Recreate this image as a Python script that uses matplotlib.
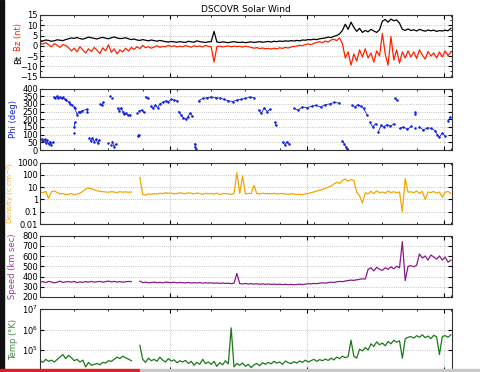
import numpy as np
import matplotlib
matplotlib.use("Agg")
import matplotlib.pyplot as plt
from matplotlib.patches import Rectangle
from matplotlib.ticker import FixedLocator, MultipleLocator, NullFormatter

# time in hours, one sample every half hour
hours = np.arange(0, 72.01, 0.5)
day_ticks = [22.8, 46.8, 70.8]

bt = [2.5, 2.3, 2.8, 2.6, 2.2, 2.4, 2.9, 2.7, 2.5, 3.0,
      3.4, 3.8, 3.6, 4.0, 3.5, 3.2, 3.7, 4.2, 3.9, 3.6,
      3.3, 3.8, 4.1, 3.7, 3.4, 3.9, 4.3, 3.8, 3.5, 3.6,
      3.9, 3.4, 3.0, 3.3, 2.8, 2.6, 3.0, 2.7, 2.4, 2.8,
      2.5, 2.2, 2.6, 2.3, 2.0, 1.8, 2.1, 1.9, 1.7, 2.0,
      1.8, 1.6, 2.2, 1.9, 1.7, 2.4, 2.0, 1.8, 1.6, 1.9,
      2.0, 7.0, 1.8, 1.6, 1.9, 1.7, 1.5, 1.8, 2.0, 1.7,
      1.6, 1.8, 1.5, 1.7, 1.9, 1.6, 1.8, 2.0, 1.7, 1.9,
      2.1, 1.8, 2.2, 2.0, 2.3, 2.1, 2.4, 2.2, 2.5, 2.3,
      2.6, 2.4, 2.8, 2.7, 3.0, 2.9, 3.2, 3.0, 3.4, 3.6,
      3.8, 4.2, 4.0, 4.6, 5.0, 5.8, 7.5, 10.5, 8.0, 11.5,
      9.0, 7.0, 8.5, 6.5, 7.5, 6.8, 8.0, 7.2, 6.5, 7.8,
      12.0, 12.8, 11.5, 13.0, 12.2, 12.6, 11.0, 8.0, 7.5, 8.2,
      7.4, 7.8, 7.2, 8.0, 7.5, 7.1, 7.7, 7.3, 7.6, 7.0,
      7.4, 7.2, 7.6, 7.3, 8.5]

bz = [1.2, 0.8, 1.5, 0.5, -0.5, 1.0, 0.3, -0.8, 0.6, 0.2,
      -1.0, -2.5, -1.2, -3.0, -0.5, -2.0, -3.5, -1.5, -2.8, -0.8,
      -2.2, -3.8, -1.0, -2.5, 0.5, -3.2, -1.5, -4.0, -2.0, -3.0,
      -1.2, -2.6, -0.8, -1.8, -0.5, -1.4, 0.2, -1.0, -0.4, -1.2,
      -0.6, 0.0, -0.8, -0.3, -0.5, 0.2, -0.4, 0.0, -0.6, -0.2,
      -0.5, 0.1, -0.3, -0.7, 0.0, -0.4, -0.1, -0.6, 0.2, -0.3,
      -0.5, -8.0, -0.4, -0.2, -0.6, -0.3, -0.1, -0.5, -0.2, -0.4,
      -0.3, -0.6, -0.2, -0.5, -0.8, -1.2, -0.9, -1.4, -1.1, -1.5,
      -1.3, -1.6, -1.2, -1.5, -1.0, -1.3, -0.8, -1.1, -0.6, -0.4,
      -0.2, 0.3, 0.0, 0.6, 0.9, 0.5, 1.2, 1.6, 2.0, 1.5,
      2.3, 1.8, 2.8, 3.2, 2.5, 3.8, 1.0, -6.0, -3.0, -9.5,
      -4.0, -7.5, -2.0, -5.5, -1.5, -6.0, -3.5, -8.0, -2.5, -5.0,
      6.0, -4.0, -9.5, 4.5, -7.0, -2.0, -8.5, -3.0, -6.0, -2.5,
      -5.5, -3.0, -6.2, -2.0, -4.5, -6.5, -2.8, -5.0, -3.5, -6.0,
      -3.0, -5.5, -2.5, -4.8, -3.2]

# (hour, phi in degrees)
phi_points = [
    (0.0, 65), (0.3, 72), (0.5, 58), (0.8, 70), (1.0, 48), (1.2, 62), (1.5, 40), (1.7, 55), (2.0, 35), (2.2, 50),
    (2.4, 345), (2.7, 340), (3.0, 350), (3.2, 338), (3.5, 345), (3.8, 335), (4.0, 342), (4.3, 330), (4.6, 325),
    (5.0, 315), (5.3, 300), (5.6, 290), (5.9, 280), (6.1, 270), (6.0, 150), (5.9, 110), (6.1, 180),
    (6.5, 230), (6.8, 250), (7.0, 245), (7.3, 255), (8.2, 265), (8.3, 250),
    (8.6, 75), (8.9, 60), (9.2, 80), (9.5, 55), (9.8, 70), (10.1, 45), (10.4, 65),
    (10.6, 300), (10.9, 290), (11.1, 310),
    (12.0, 45), (12.4, 30), (12.7, 55), (13.0, 20), (13.3, 40), (12.3, 350), (12.6, 340),
    (13.6, 270), (13.9, 255), (14.2, 275), (14.5, 250), (14.8, 235), (15.1, 240), (15.4, 225), (15.7, 230),
    (17.0, 240), (17.4, 255), (17.8, 260), (18.2, 245), (17.3, 100), (17.1, 90),
    (18.5, 345), (18.9, 335), (19.4, 285), (19.8, 270), (20.2, 290), (20.6, 275),
    (21.0, 300), (21.5, 310), (22.0, 320), (22.5, 315), (23.0, 330), (23.5, 325), (24.0, 320),
    (24.3, 250), (24.7, 230), (25.1, 210), (25.5, 200), (25.9, 215), (26.3, 240), (26.7, 220),
    (27.1, 40), (27.2, 20), (27.3, 5),
    (27.8, 320), (28.5, 335), (29.2, 340), (30.0, 345), (30.8, 340), (31.5, 338), (32.2, 330),
    (33.0, 320), (33.8, 315), (34.5, 325), (35.2, 330), (36.0, 335), (36.8, 345), (37.5, 340),
    (38.3, 260), (38.8, 240), (39.3, 275), (39.8, 250), (40.3, 265), (41.2, 180), (41.3, 160),
    (42.5, 50), (42.9, 35), (43.3, 55), (43.7, 40),
    (44.5, 270), (45.2, 260), (46.0, 280), (46.8, 275), (47.6, 285), (48.4, 290), (49.2, 280),
    (50.0, 295), (50.8, 300), (51.6, 310), (52.4, 305),
    (53.0, 60), (53.3, 40), (53.6, 20), (53.8, 5),
    (54.7, 290), (55.2, 280), (55.7, 295), (56.2, 285), (56.7, 270),
    (57.3, 230), (57.8, 180), (58.3, 150), (58.8, 170), (59.3, 120), (59.8, 160),
    (60.2, 150), (60.8, 165), (61.4, 155), (62.0, 170), (62.2, 335), (62.5, 325),
    (63.0, 140), (63.7, 150), (64.4, 135), (65.1, 155), (65.8, 140), (66.5, 150), (67.2, 130),
    (67.9, 145), (68.6, 140), (69.3, 125), (65.7, 250), (65.8, 235),
    (69.6, 100), (70.0, 85), (70.5, 110), (71.0, 90), (71.5, 190), (71.9, 215),
]

nan = np.nan
density = [4.0, 3.5, 4.5, 1.2, 4.2, 5.0, 3.6, 2.8, 3.0, 2.5,
           2.6, 3.0, 2.4, 2.8, 3.2, 4.5, 7.0, 8.5, 7.5, 6.0,
           5.0, 4.5, 4.2, 4.0, 3.8, 4.3, 4.0, 3.6, 4.2, 3.9,
           4.1, 3.8, 4.0, nan, nan, 60, 2.5, 2.2, 2.8, 2.6,
           3.0, 2.7, 3.2, 2.9, 3.5, 3.1, 3.3, 2.8, 3.0, 3.4,
           3.2, 2.9, 3.5, 3.1, 2.8, 3.3, 3.0, 2.6, 3.1, 2.9,
           3.0, 2.7, 3.2, 2.5, 2.9, 3.0, 2.8, 2.6, 3.1, 150,
           3.0, 80, 2.8, 3.1, 2.9, 14, 3.0, 2.8, 3.2, 2.9,
           3.0, 2.8, 3.1, 2.7, 2.9, 3.0, 2.8, 2.6, 2.9, 2.7,
           2.5, 2.6, 2.4, 2.8, 3.0, 3.5, 4.0, 4.8, 5.5, 6.5,
           8.0, 10, 12, 18, 25, 20, 35, 45, 30, 40,
           35, 4.0, 2.0, 0.5, 3.5, 2.8, 4.5, 3.0, 5.0, 3.5,
           4.0, 3.2, 4.8, 3.6, 4.2, 3.5, 4.0, 0.1, 50, 3.8,
           4.2, 3.5, 4.8, 3.0, 4.5, 1.0, 4.0, 3.6, 4.4, 3.2,
           4.0, 1.5, 3.8, 4.5, 3.0]

speed = [345, 350, 340, 352, 347, 338, 345, 355, 342, 348,
         350, 345, 352, 340, 348, 343, 350, 346, 352, 345,
         348, 352, 345, 350, 355, 348, 352, 346, 350, 345,
         348, 352, 350, nan, nan, 355, 340, 345, 338, 342,
         345, 340, 343, 338, 345, 342, 340, 344, 338, 342,
         340, 338, 342, 336, 340, 337, 341, 335, 339, 336,
         338, 334, 337, 333, 336, 332, 335, 330, 334, 430,
         330, 328, 332, 327, 330, 326, 329, 325, 328, 324,
         327, 323, 326, 322, 325, 321, 324, 320, 323, 319,
         322, 325, 321, 326, 330, 328, 333, 330, 335, 338,
         336, 340, 345, 342, 348, 352, 350, 356, 360, 365,
         362, 368, 372, 378, 375, 470, 485, 455, 490, 470,
         460, 485, 470, 495, 475, 500, 485, 740, 360, 500,
         505, 495, 510, 620, 580, 600, 560, 610, 590, 570,
         600, 560, 590, 540, 560]

temp = [3.0e4, 2.5e4, 3.5e4, 2.8e4, 3.2e4, 2.6e4, 3.4e4, 4.5e4, 6.0e4, 3.8e4,
        5.5e4, 4.2e4, 3.0e4, 3.5e4, 2.6e4, 3.2e4, 1.5e4, 2.5e4, 1.8e4, 2.0e4,
        2.2e4, 1.9e4, 2.5e4, 2.3e4, 3.0e4, 2.8e4, 3.5e4, 4.5e4, 3.8e4, 5.0e4,
        4.2e4, 3.6e4, 3.0e4, nan, nan, 1.7e5, 3.5e4, 2.5e4, 4.0e4, 3.0e4,
        3.5e4, 2.8e4, 4.5e4, 3.2e4, 2.6e4, 3.8e4, 2.9e4, 3.3e4, 2.4e4, 3.0e4,
        2.6e4, 3.1e4, 2.2e4, 2.8e4, 1.8e4, 2.5e4, 2.0e4, 3.5e4, 2.2e4, 2.6e4,
        2.0e4, 2.8e4, 1.6e4, 2.4e4, 1.9e4, 3.0e4, 2.1e4, 1.2e6, 1.5e4, 2.2e4,
        1.8e4, 2.3e4, 1.6e4, 2.0e4, 1.4e4, 1.9e4, 2.2e4, 1.7e4, 2.4e4, 2.0e4,
        2.5e4, 2.1e4, 2.8e4, 2.3e4, 2.6e4, 2.0e4, 2.9e4, 2.4e4, 2.2e4, 2.7e4,
        2.3e4, 2.9e4, 2.5e4, 3.2e4, 2.6e4, 3.0e4, 3.5e4, 2.8e4, 3.4e4, 3.0e4,
        3.6e4, 3.1e4, 4.0e4, 3.3e4, 4.5e4, 3.8e4, 5.0e4, 4.2e4, 4.8e4, 3.0e5,
        5.0e4, 4.0e4, 1.1e5, 9.0e4, 1.3e5, 1.0e5, 2.0e5, 1.5e5, 2.5e5, 1.8e5,
        2.2e5, 1.6e5, 2.6e5, 2.0e5, 3.0e5, 2.4e5, 2.8e5, 4.0e4, 3.5e5, 4.2e5,
        4.5e5, 3.8e5, 5.0e5, 4.2e5, 5.5e5, 4.0e5, 4.8e5, 3.6e5, 5.2e5, 4.4e5,
        6.0e4, 4.6e5, 5.0e5, 4.2e5, 5.5e5]

for s in (bt, bz, density, speed, temp):
    assert len(s) == len(hours)

# phi: sort by time, break the trace where it jumps so streaks look like the dotted record
phi_sorted = sorted(phi_points)
phi_t, phi_v = [], []
for i, (h, v) in enumerate(phi_sorted):
    if i > 0:
        ph_, pv_ = phi_sorted[i - 1]
        if abs(v - pv_) > 45 or h - ph_ > 1.0:
            phi_t.append(nan)
            phi_v.append(nan)
    phi_t.append(h)
    phi_v.append(v)

W, H = 480, 372
fig = plt.figure(figsize=(W / 100, H / 100), dpi=100)
fig.patch.set_facecolor("white")

left, right = 40, 452
tops = [15, 88.5, 162.5, 235.5, 309]
ph = 61.5
axes = [fig.add_axes([left / W, 1 - (t + ph) / H, (right - left) / W, ph / H]) for t in tops]

grid_kw = dict(color="#b0b0b0", linestyle=":", linewidth=0.6)
for ax in axes:
    ax.set_xlim(0, 72.2)
    ax.xaxis.set_major_locator(FixedLocator(day_ticks))
    ax.xaxis.set_minor_locator(MultipleLocator(6))
    ax.xaxis.set_major_formatter(NullFormatter())
    ax.tick_params(which="both", direction="in", top=True, right=True, labelsize=6, pad=1.5)
    ax.tick_params(which="major", length=3)
    ax.tick_params(which="minor", length=1.5)
    ax.grid(True, which="major", **grid_kw)
    for sp in ax.spines.values():
        sp.set_color("#333333")
        sp.set_linewidth(0.8)

# Bt / Bz
ax = axes[0]
ax.plot(hours, bt, color="black", lw=0.9)
ax.plot(hours, bz, color="#ff2200", lw=0.9)
ax.set_ylim(-15, 15)
ax.set_yticks(range(-15, 16, 5))
ax.yaxis.set_minor_locator(MultipleLocator(2.5))
ax.set_title("DSCOVR Solar Wind", fontsize=6.5, pad=2)
ax.text(-0.052, 0.27, "Bt", color="black", rotation=90, fontsize=6,
        transform=ax.transAxes, ha="center", va="center")
ax.text(-0.052, 0.64, "Bz (nt)", color="#ff2200", rotation=90, fontsize=6,
        transform=ax.transAxes, ha="center", va="center")

# Phi
ax = axes[1]
ax.plot(phi_t, phi_v, "-", color="#1020e0", lw=0.6, marker=".", ms=1.6)
ax.set_ylim(0, 400)
ax.set_yticks(range(0, 401, 50))
ax.set_ylabel("Phi (deg)", color="#1020e0", fontsize=6)
ax.yaxis.set_label_coords(-0.053, 0.5)

# Density
ax = axes[2]
ax.plot(hours, density, color="#f5a500", lw=0.9)
ax.set_yscale("log")
ax.set_ylim(0.01, 1000)
dens_ticks = [0.01, 0.1, 1, 10, 100, 1000]
dens_labels = ["0.01", "0.1", "1", "10", "100", "1000"]
ax.set_yticks(dens_ticks)
ax.set_yticklabels(dens_labels)
ax.yaxis.set_minor_formatter(NullFormatter())
ax.set_ylabel("Density (c cm$^{-3}$)", color="#f0b030", fontsize=5.2)
ax.yaxis.set_label_coords(-0.056, 0.5)

# Speed
ax = axes[3]
ax.plot(hours, speed, color="#8a1a8a", lw=0.9)
ax.set_ylim(200, 800)
ax.set_yticks(range(200, 801, 100))
ax.set_ylabel("Speed (km sec)", color="#9a3a9a", fontsize=6)
ax.yaxis.set_label_coords(-0.055, 0.5)

# Temp
ax = axes[4]
ax.plot(hours, temp, color="#1a7a1a", lw=0.9)
ax.set_yscale("log")
ax.set_ylim(1e4, 1e7)
ax.set_yticks([1e5, 1e6, 1e7])
ax.yaxis.set_minor_formatter(NullFormatter())
ax.set_ylabel("Temp (°K)", color="#3a8a3a", fontsize=6)
ax.yaxis.set_label_coords(-0.053, 0.5)

# screen-capture edges: dark strip on the left, progress bar at the bottom
fig.add_artist(Rectangle((0, 0), 4 / W, 1, transform=fig.transFigure, color="#111111", zorder=10))
fig.add_artist(Rectangle((0, 0), 140 / W, 3 / H, transform=fig.transFigure, color="#e02020", zorder=10))
fig.add_artist(Rectangle((140 / W, 0), 1 - 140 / W, 3 / H, transform=fig.transFigure, color="#c8c8c8", zorder=10))

fig.savefig("out.png", dpi=100)
